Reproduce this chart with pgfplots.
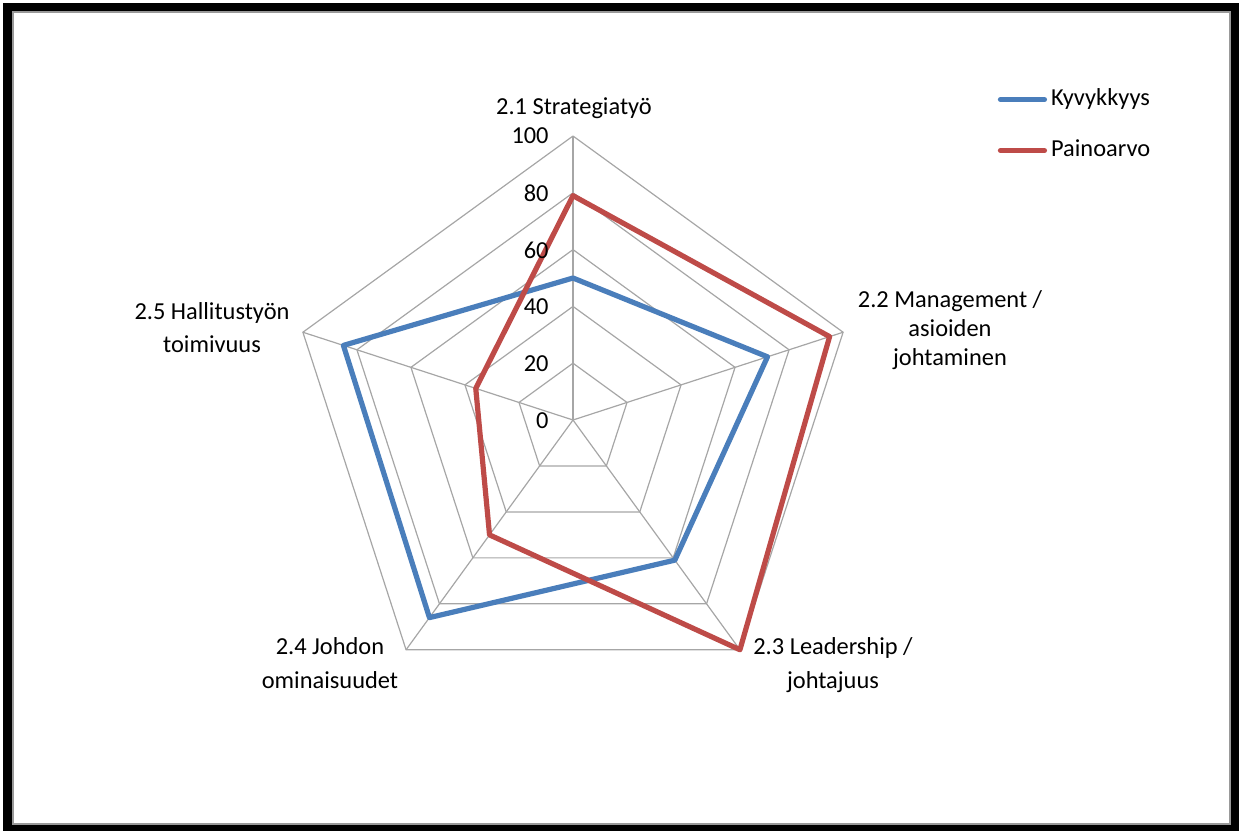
\documentclass[border=0pt]{standalone}
\usepackage{pgfplots}
\pgfplotsset{compat=1.18}
\usepackage{fontspec}
\setmainfont{Carlito}
\definecolor{kyv}{HTML}{4A7EBB}
\definecolor{pai}{HTML}{BE4B48}
\definecolor{gridc}{HTML}{A6A6A6}
\begin{document}
\begin{tikzpicture}[font=\fontsize{12.2pt}{14pt}\selectfont]
\path[use as bounding box] (0,0) rectangle (619.5pt,-415.5pt);
\fill[black, even odd rule] (1.5pt,-1.5pt) rectangle (619.5pt,-415.5pt) (6pt,-5.5pt) rectangle (615.5pt,-412.5pt);
\draw[gray!80, line width=0.8pt] (6.4pt,-5.9pt) rectangle (615.1pt,-412.1pt);
\begin{axis}[at={(286.5pt,-210pt)}, anchor=origin,
  x=1.42pt, y=1.42pt, xmin=-100, xmax=100, ymin=-100, ymax=100,
  hide axis, clip=false, data cs=polar,
  legend style={at={(axis description cs:1.248,1.0827)}, anchor=north west,
    draw=none, fill=none, inner sep=0pt, outer sep=0pt, row sep=15pt, column sep=2pt,
    nodes={inner sep=0pt, text height=8pt, text depth=2.5pt, anchor=west}},
  legend cell align=left,
  legend image code/.code={\draw[#1] (0pt,0pt) -- (22pt,0pt);},
  grid line/.style={gridc, line width=0.6pt, forget plot, line join=miter},
  series/.style={line width=2.6pt, line join=round, line cap=round},
]
% pentagon grid
\addplot[grid line] coordinates {(90,20)(18,20)(-54,20)(-126,20)(162,20)(90,20)};
\addplot[grid line] coordinates {(90,40)(18,40)(-54,40)(-126,40)(162,40)(90,40)};
\addplot[grid line] coordinates {(90,60)(18,60)(-54,60)(-126,60)(162,60)(90,60)};
\addplot[grid line] coordinates {(90,80)(18,80)(-54,80)(-126,80)(162,80)(90,80)};
\addplot[grid line] coordinates {(90,100)(18,100)(-54,100)(-126,100)(162,100)(90,100)};
% spokes
\addplot[grid line] coordinates {(90,0)(90,100)};
\addplot[grid line] coordinates {(18,0)(18,100)};
\addplot[grid line] coordinates {(-54,0)(-54,100)};
\addplot[grid line] coordinates {(-126,0)(-126,100)};
\addplot[grid line] coordinates {(162,0)(162,100)};
% series
\addplot[series, kyv] coordinates {(90,50)(18,72)(-54,61)(-126,86)(162,85)(90,50)};
\addlegendentry{Kyvykkyys}
\addplot[series, pai] coordinates {(90,79)(18,95)(-54,100)(-126,50)(162,36)(90,79)};
\addlegendentry{Painoarvo}
\end{axis}
% radial tick labels
\foreach \v/\y in {100/136,80/193,60/250,40/307,20/364,0/421}
  \node[anchor=east, inner sep=0pt] at (274.5pt,{-\y*0.5pt}) {\v};
% category labels
\node[anchor=base, inner sep=0pt] at (287pt,-57pt) {2.1 Strategiatyö};
\node[anchor=base, inner sep=0pt] at (475pt,-153.5pt) {2.2 Management /};
\node[anchor=base, inner sep=0pt] at (475pt,-168pt) {asioiden};
\node[anchor=base, inner sep=0pt] at (475pt,-182.5pt) {johtaminen};
\node[anchor=base, inner sep=0pt] at (416.5pt,-327pt) {2.3 Leadership /};
\node[anchor=base, inner sep=0pt] at (416.5pt,-344pt) {johtajuus};
\node[anchor=base, inner sep=0pt] at (165pt,-327pt) {2.4 Johdon};
\node[anchor=base, inner sep=0pt] at (165pt,-344pt) {ominaisuudet};
\node[anchor=base, inner sep=0pt] at (106pt,-159.5pt) {2.5 Hallitustyön};
\node[anchor=base, inner sep=0pt] at (106pt,-176pt) {toimivuus};
\end{tikzpicture}
\end{document}
